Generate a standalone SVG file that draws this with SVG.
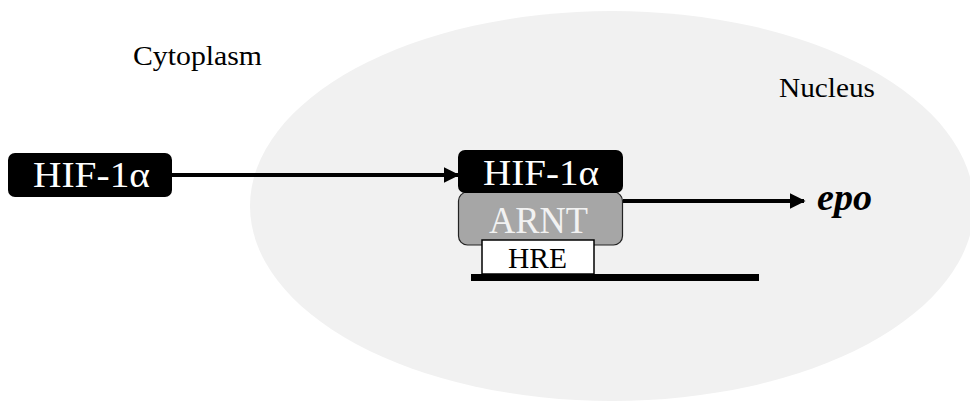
<svg xmlns="http://www.w3.org/2000/svg" width="970" height="405" viewBox="0 0 970 405">
<defs>
<style>
text{font-family:"Liberation Serif","Times New Roman",serif}
.lbl{font-size:28px;fill:#000}
.w{fill:#fff}
.conn line{stroke:#000;stroke-width:4}
</style>
<marker id="ah" viewBox="0 0 10 10" refX="9" refY="5" markerWidth="4" markerHeight="4" orient="auto" markerUnits="strokeWidth">
<path d="M0,0 L10,5 L0,10 Z" fill="#000"/>
</marker>
</defs>
<rect width="970" height="405" fill="#fff"/>
<g id="nucleus">
<ellipse cx="612" cy="206" rx="362" ry="195" fill="#f1f1f1"/>
<text class="lbl" x="779" y="97" textLength="96" lengthAdjust="spacingAndGlyphs">Nucleus</text>
</g>
<g id="cytoplasm">
<text class="lbl" x="133" y="65" textLength="129" lengthAdjust="spacingAndGlyphs">Cytoplasm</text>
</g>
<g class="conn" id="connectors">
<line x1="172" y1="175" x2="458" y2="175" marker-end="url(#ah)"/>
<line x1="623" y1="201" x2="804" y2="201" marker-end="url(#ah)"/>
</g>
<g id="hif-cyto">
<rect x="8" y="153" width="164" height="44" rx="7" fill="#000"/>
<text class="w" x="33" y="187" font-size="36" textLength="117" lengthAdjust="spacingAndGlyphs">HIF-1α</text>
</g>
<g id="dna">
<rect x="471" y="274" width="288" height="7" fill="#000"/>
</g>
<g id="arnt">
<rect x="458.5" y="192" width="164" height="53" rx="9" fill="#a6a6a6" stroke="#222" stroke-width="1.2"/>
<text x="489" y="233" font-size="38" fill="#f2f2f2" textLength="99" lengthAdjust="spacingAndGlyphs">ARNT</text>
</g>
<g id="hif-nuc">
<rect x="458" y="150" width="165" height="43" rx="7" fill="#000"/>
<text class="w" x="483" y="185" font-size="35" textLength="116" lengthAdjust="spacingAndGlyphs">HIF-1α</text>
</g>
<g id="hre">
<rect x="482" y="240" width="112" height="34" fill="#fff" stroke="#000" stroke-width="1.5"/>
<text x="508" y="268" font-size="29" fill="#000" textLength="59" lengthAdjust="spacingAndGlyphs">HRE</text>
</g>
<g id="epo">
<text x="817" y="210" font-size="37" font-weight="bold" font-style="italic" fill="#000" textLength="55" lengthAdjust="spacingAndGlyphs">epo</text>
</g>
</svg>
